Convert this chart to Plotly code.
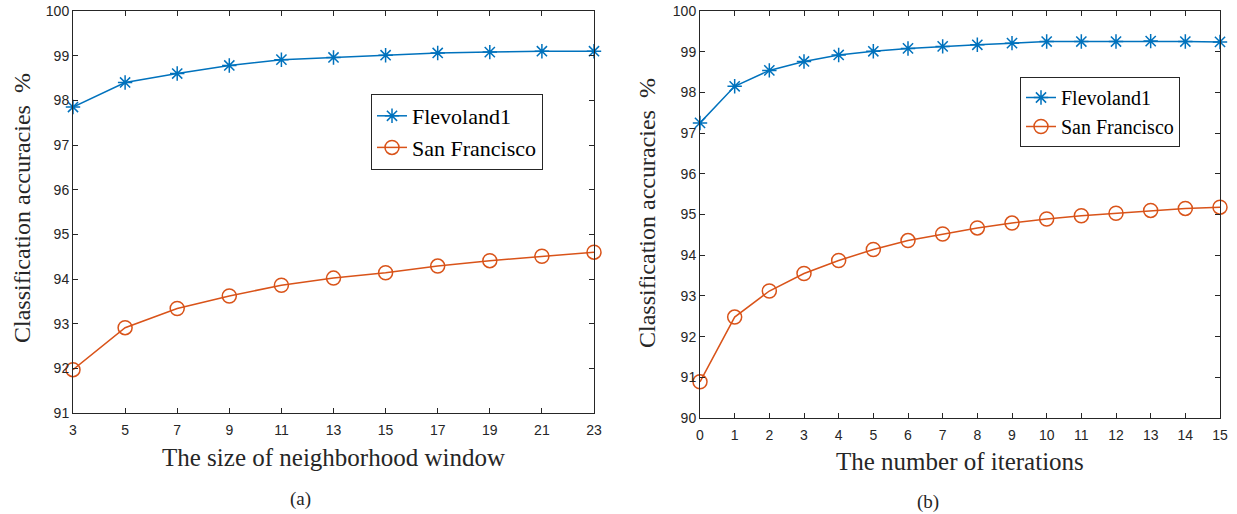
import plotly.graph_objects as go

# ---- data ----
window_sizes = [3, 5, 7, 9, 11, 13, 15, 17, 19, 21, 23]
flevo_a = [97.85, 98.40, 98.60, 98.78, 98.91, 98.96, 99.01, 99.06, 99.08, 99.10, 99.10]
sf_a = [91.97, 92.91, 93.34, 93.62, 93.86, 94.02, 94.14, 94.29, 94.41, 94.51, 94.60]

iterations = list(range(16))
flevo_b = [97.25, 98.15, 98.54, 98.76, 98.92, 99.01, 99.08, 99.13, 99.17, 99.21,
           99.25, 99.25, 99.25, 99.26, 99.25, 99.24]
sf_b = [90.89, 92.48, 93.12, 93.55, 93.87, 94.14, 94.36, 94.52, 94.67, 94.79,
        94.89, 94.97, 95.03, 95.10, 95.15, 95.18]

BLUE = "#0072BD"
ORANGE = "#D95319"
TXT = "#262626"
W, H = 1237, 514
SERIF = "Liberation Serif, Times New Roman, serif"
SANS = "Liberation Sans, Arial, sans-serif"

fig = go.Figure()

def add_pair(x, yf, ys, xa, ya, leg):
    fig.add_trace(go.Scatter(x=x, y=yf, mode="lines+markers", name="Flevoland1",
                             line=dict(color=BLUE, width=1.5),
                             marker=dict(symbol="asterisk-open", size=12,
                                         line=dict(color=BLUE, width=1.5)),
                             xaxis=xa, yaxis=ya, legend=leg, cliponaxis=False))
    fig.add_trace(go.Scatter(x=x, y=ys, mode="lines+markers", name="San Francisco",
                             line=dict(color=ORANGE, width=1.5),
                             marker=dict(symbol="circle-open", size=14,
                                         line=dict(color=ORANGE, width=1.5)),
                             xaxis=xa, yaxis=ya, legend=leg, cliponaxis=False))

add_pair(window_sizes, flevo_a, sf_a, "x", "y", "legend")
add_pair(iterations, flevo_b, sf_b, "x2", "y2", "legend2")

tickfont = dict(family=SANS, size=14, color=TXT)
axis_common = dict(showline=True, linecolor=TXT, linewidth=1, mirror="ticks",
                   ticks="inside", ticklen=5, tickcolor=TXT, showgrid=False,
                   zeroline=False, tickfont=tickfont, automargin=False)

def px_x(p):
    return p / W

def px_y(p):
    return 1 - p / H

def label(text, x, y, size, angle=0):
    return dict(text=text, x=px_x(x), y=px_y(y), xref="paper", yref="paper",
                xanchor="center", yanchor="middle", showarrow=False, textangle=angle,
                font=dict(family=SERIF, size=size, color=TXT))

fig.update_layout(
    template="none",
    width=W, height=H,
    margin=dict(l=0, r=0, t=0, b=0, autoexpand=False),
    paper_bgcolor="white", plot_bgcolor="white",
    xaxis=dict(domain=[px_x(73), px_x(594)], range=[3, 23], tickvals=window_sizes,
               anchor="y", ticklabelstandoff=4, **axis_common),
    yaxis=dict(domain=[px_y(413), px_y(11)], range=[91, 100], dtick=1, anchor="x",
               **axis_common),
    xaxis2=dict(domain=[px_x(700), px_x(1220)], range=[0, 15], tickvals=iterations,
                anchor="y2", ticklabelstandoff=4, **axis_common),
    yaxis2=dict(domain=[px_y(418), px_y(11)], range=[90, 100], dtick=1, anchor="x2",
                **axis_common),
    legend=dict(x=px_x(371), y=px_y(94), xanchor="left", yanchor="top",
                bgcolor="white", bordercolor=TXT, borderwidth=1,
                font=dict(family=SERIF, size=22, color="black"),
                tracegroupgap=0),
    legend2=dict(x=px_x(1020), y=px_y(77), xanchor="left", yanchor="top",
                 bgcolor="white", bordercolor=TXT, borderwidth=1,
                 font=dict(family=SERIF, size=20, color="black"),
                 tracegroupgap=0),
    annotations=[
        label("The size of neighborhood window", 333.5, 457, 25),
        label("The number of iterations", 960, 461, 25),
        label("Classification accuracies  %", 22, 208, 24, -90),
        label("Classification accuracies  %", 647, 213, 24, -90),
        label("(a)", 300, 499, 19),
        label("(b)", 928, 502, 19),
    ],
)

fig.write_html("out.html")
